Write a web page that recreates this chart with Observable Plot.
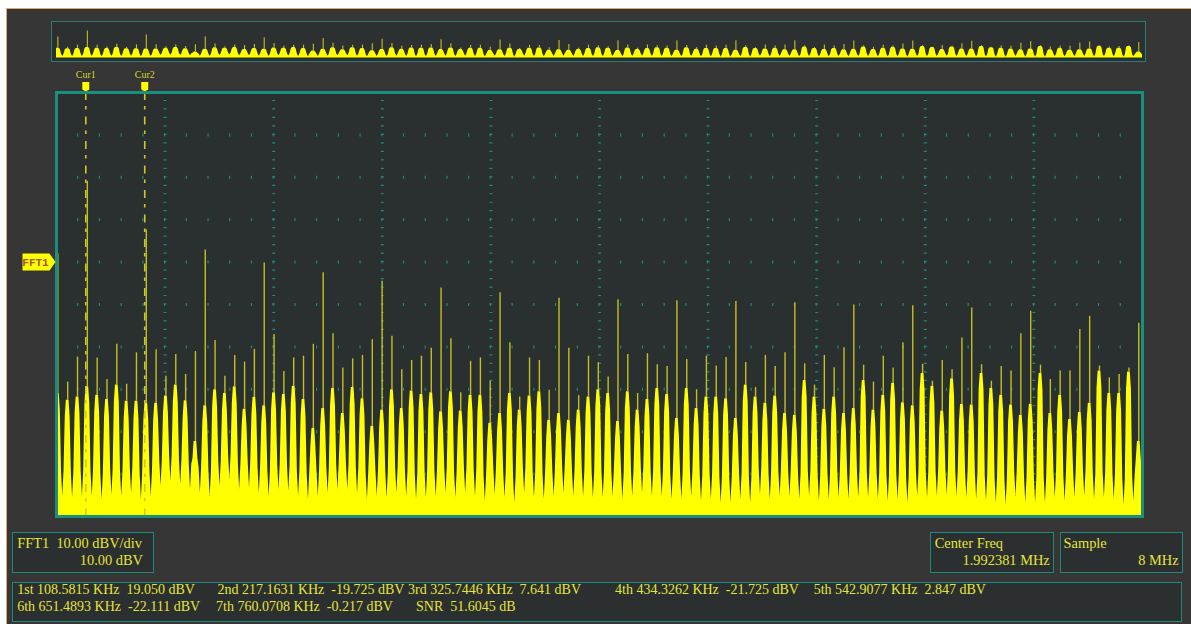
<!DOCTYPE html>
<html><head><meta charset="utf-8">
<script src="https://cdn.jsdelivr.net/npm/d3@7"></script>
<script src="https://cdn.jsdelivr.net/npm/@observablehq/plot@0.6"></script>
<style>
body{margin:0;background:#fff;width:1191px;height:624px;overflow:hidden;position:relative;font-family:"Liberation Serif",serif;}
#bg{position:absolute;left:6px;top:8px;right:0;bottom:0;background:#363636;border-left:1px solid #e2a673;border-top:1px solid #e2a673;}
.box{position:absolute;border:1.5px solid #1f8a7c;background:#2b2f30;box-sizing:border-box;}
.t{position:absolute;color:#e6e43a;font-size:14px;white-space:pre;line-height:1;}
.b{font-size:14.4px;}
#ov{position:absolute;left:51px;top:21px;width:1095px;height:41px;border:1px solid #2a7d72;background:#2c3031;box-sizing:border-box;}
</style></head><body>
<div id="bg"></div>
<div id="ov"></div>
<div class="box" style="left:12px;top:531.5px;width:142px;height:41px"></div>
<div class="box" style="left:930px;top:531.5px;width:124px;height:41px"></div>
<div class="box" style="left:1060px;top:531.5px;width:123px;height:41px"></div>
<div class="box" style="left:12px;top:581.5px;width:1170px;height:40.5px"></div>
<div id="texts"></div>
<script>
// ---- data ----
const spanKHz = [-5, 3995];           // displayed frequency span
const fundamentalKHz = 108.5815;      // 1st harmonic
const combStepKHz = fundamentalKHz / 3; // spectral comb spacing seen in the trace
const dbvPerDiv = 10;
const yDomainDbv = [-60, 40];
const refLevelDbv = 0;                // FFT1 marker level
const spikeTopDbv = [1.9,-28.3,-22.4,19.05,-22.6,-27.7,-19.4,-28.8,-21.4,7.64,
 -20.7,-26.9,-21.8,-26.5,-21.1,2.85,-18.5,-26.9,-22.0,-23.6,
 -20.6,-0.22,-17.1,-25.8,-22.6,-22.2,-19.4,-2.5,-16.9,-25.0,
 -22.8,-22.0,-18.3,-4.5,-17.5,-25.4,-23.2,-22.2,-20.3,-6.1,
 -18.1,-30.8,-23.4,-22.6,-28.1,-7.2,-19.0,-31.8,-22.6,-23.2,
 -30.2,-8.5,-20.3,-31.5,-22.2,-23.7,-27.1,-8.9,-21.8,-31.0,
 -21.6,-24.2,-24.6,-9.1,-23.0,-30.1,-22.2,-24.5,-22.5,-9.3,
 -23.7,-29.6,-22.0,-24.6,-21.4,-9.6,-24.0,-29.0,-22.0,-24.9,
 -20.2,-10.1,-24.3,-28.3,-22.2,-25.0,-19.0,-10.3,-24.1,-28.1,
 -23.2,-25.4,-17.9,-10.8,-24.2,-28.1,-24.6,-25.7,-16.9,-11.6,
 -24.3,-27.7,-25.7,-25.7,-15.9,-12.8,-24.5,-27.3,-26.5,-25.0,-14.4];
const bodyTopDbv = [-31.0,-32.6,-31.8,-29.4,-31.4,-32.4,-29.0,-32.8,-32.8,-33.3,
 -33.3,-31.6,-29.0,-32.7,-42.3,-33.9,-30.1,-31.0,-29.4,-34.7,
 -31.9,-33.9,-30.8,-31.2,-29.3,-32.4,-39.2,-34.5,-29.8,-35.7,
 -29.6,-32.2,-38.7,-34.9,-30.1,-34.5,-30.4,-31.2,-30.8,-35.3,
 -30.6,-35.1,-31.4,-31.4,-38.0,-35.7,-31.0,-34.9,-31.6,-30.6,
 -37.3,-35.7,-37.3,-34.9,-31.8,-30.1,-31.0,-37.6,-30.6,-34.9,
 -32.4,-29.8,-31.2,-36.9,-29.8,-34.5,-31.8,-31.8,-32.2,-36.9,
 -29.0,-31.8,-33.3,-31.6,-35.7,-36.1,-27.9,-31.8,-34.7,-31.8,
 -35.7,-34.5,-27.9,-34.9,-31.4,-28.6,-33.2,-33.9,-26.3,-29.3,
 -35.1,-27.5,-33.6,-33.7,-26.3,-29.8,-31.4,-33.7,-36.1,-33.5,
 -26.3,-35.7,-31.4,-37.1,-35.5,-33.3,-25.7,-31.0,-31.0,-25.9,-42.3];
const valleyDbv = [-55.3,-55.6,-55.3,-55.3,-56.0,-54.9,-55.3,-54.5,-56.0,-55.3,
 -52.9,-51.7,-52.5,-53.7,-54.5,-55.3,-52.9,-51.3,-53.7,-53.3,
 -54.5,-55.3,-53.7,-54.1,-55.3,-56.0,-55.3,
 -54.5,-53.7,-53.7,-54.5,-56.0,-55.3,-55.6,-54.5,-55.3,-56.0,
 -55.6,-55.3,-54.5,-55.6,-54.5,-55.3,-56.4,-54.9,-55.6,-56.8,
 -54.5,-55.6,-56.0,-55.3,-54.5,-55.3,-55.3,-55.6,
 -55.6,-55.3,-56.0,-55.3,-54.5,-55.3,-55.3,-56.0,-56.0,-55.3,
 -56.4,-56.0,-56.8,-56.8,-56.0,-56.8,-54.9,-56.0,-55.3,-55.3,
 -56.0,-55.3,-56.4,-56.0,-55.6,-56.0,-55.6,
 -55.6,-56.0,-56.4,-56.0,-56.8,-55.3,-55.6,-55.3,-54.9,-55.3,
 -55.6,-56.0,-56.4,-56.8,-57.2,-55.3,-56.8,-56.8,-56.8,-55.6,
 -56.4,-55.6,-55.3,-56.0,-55.6,-56.0,-57.2,-56.4];
const cursorKHz = [102.86, 320.00];
const cursorNames = ["Cur1", "Cur2"];
const readoutRows = [
  ["Cur1", "102.86 KHz", "( -28.19 dBV )"],
  ["Cur2", "320.00 KHz", "( -34.05 dBV )"],
  ["|\u25B3X|", "217.14 KHz", ""]
];
const harmonicRow1 = ["1st 108.5815 KHz  19.050 dBV", "2nd 217.1631 KHz  -19.725 dBV", "3rd 325.7446 KHz  7.641 dBV", "4th 434.3262 KHz  -21.725 dBV", "5th 542.9077 KHz  2.847 dBV"];
const harmonicRow2 = ["6th 651.4893 KHz  -22.111 dBV", "7th 760.0708 KHz  -0.217 dBV", "SNR  51.6045 dB"];
const scaleLabel = ["FFT1  10.00 dBV/div", "10.00 dBV"];
const centerFreq = ["Center Freq", "1.992381 MHz"];
const sampleRate = ["Sample", "8 MHz"];

// ---- tables ----
const peaks = spikeTopDbv.map((top, k) => ({f: k * combStepKHz, top, body: bodyTopDbv[k]}));
const spectrum = [{f: spanKHz[0], db: bodyTopDbv[0]}];
peaks.forEach((p, k) => {
  const vl = k > 0 ? valleyDbv[k - 1] : valleyDbv[0];
  const vr = k < valleyDbv.length ? valleyDbv[k] : valleyDbv[valleyDbv.length - 1];
  if (k > 0) spectrum.push({f: p.f - 13.5, db: vl + 6}, {f: p.f - 9, db: p.body - 4});
  spectrum.push({f: p.f - 5, db: p.body}, {f: p.f + 5, db: p.body}, {f: p.f + 9, db: p.body - 4}, {f: p.f + 13.5, db: vr + 6});
  if (k < valleyDbv.length) spectrum.push({f: p.f + combStepKHz / 2, db: valleyDbv[k]});
});
spectrum.push({f: spanKHz[1], db: valleyDbv[valleyDbv.length - 1]});
const cursors = cursorKHz.map((f, i) => ({f, label: cursorNames[i]}));
const divKHz = (spanKHz[1] - spanKHz[0]) / 10;
const xDivs = d3.range(1, 10).map(i => spanKHz[0] + i * divKHz);
const yDivs = d3.range(yDomainDbv[0] + dbvPerDiv, yDomainDbv[1], dbvPerDiv);

const yellow = "#ffff00", spikeCol = "#c4c01e", grid = "#1d8b7d";
const cursorSym = {draw(c) { c.moveTo(-3.5, -4.5); c.lineTo(3.5, -4.5); c.lineTo(3.5, 3); c.lineTo(0, 5); c.lineTo(-3.5, 3); c.closePath(); }};
const arrowSym = {draw(c) { c.moveTo(-16, -8.5); c.lineTo(11, -8.5); c.lineTo(17, 0); c.lineTo(11, 8.5); c.lineTo(-16, 8.5); c.closePath(); }};

const svgStyle = {background: "transparent", position: "absolute", left: "0px", top: "0px", overflow: "visible", maxWidth: "none"};

// overview strip
const overview = Plot.plot({
  width: 1191, height: 70,
  marginLeft: 56, marginRight: 49, marginTop: 23.5, marginBottom: 12.5,
  x: {domain: spanKHz, axis: null},
  y: {domain: yDomainDbv, axis: null},
  style: svgStyle,
  marks: [
    Plot.areaY(spectrum, {x: "f", y1: () => yDomainDbv[0], y2: "db", fill: yellow, curve: "linear"}),
    Plot.ruleX(peaks, {x: "f", y1: "body", y2: "top", stroke: spikeCol, strokeWidth: 1.1})
  ]
});
document.body.appendChild(overview);

const main = Plot.plot({
  width: 1191, height: 624,
  marginLeft: 56, marginRight: 49, marginTop: 92, marginBottom: 108,
  x: {domain: spanKHz, axis: null},
  y: {domain: yDomainDbv, axis: null},
  style: svgStyle,
  marks: [
    Plot.frame({fill: "#2a2f30"}),
    Plot.ruleX(xDivs, {stroke: grid, strokeWidth: 3, strokeDasharray: "1.2 7.28", strokeDashoffset: 0.6}),
    Plot.ruleY(yDivs, {stroke: grid, strokeWidth: 3, strokeDasharray: "1.2 20.52", strokeDashoffset: 0.6}),
    Plot.areaY(spectrum, {x: "f", y1: () => yDomainDbv[0], y2: "db", fill: yellow, curve: "linear"}),
    Plot.ruleX(peaks, {x: "f", y1: "body", y2: "top", stroke: spikeCol, strokeWidth: 1.4}),
    Plot.ruleX(cursors, {x: "f", stroke: "#cfca1e", strokeWidth: 1.6, strokeDasharray: "8 6 3.5 7"}),
    Plot.dot(cursors, {x: "f", frameAnchor: "top", dy: -6, symbol: cursorSym, fill: yellow, stroke: "none"}),
    Plot.text(cursors, {x: "f", text: "label", frameAnchor: "top", dy: -22, fill: "#dedb4c", fontSize: 10, fontFamily: "Liberation Serif", stroke: "#2a2a10", strokeWidth: 0.6, paintOrder: "stroke"}),
    Plot.frame({stroke: "#1b8f7f", strokeWidth: 3}),
    Plot.dot([refLevelDbv], {y: d => d, frameAnchor: "left", dx: -18, symbol: arrowSym, fill: yellow, stroke: "none"}),
    Plot.text([refLevelDbv], {y: d => d, frameAnchor: "left", dx: -21, textAnchor: "middle", text: () => "FFT1", fill: "#a9552a", fontSize: 11, fontWeight: "bold", fontFamily: "Liberation Mono"})
  ]
});
document.body.appendChild(main);

// ---- text panels ----
const T = document.getElementById("texts");
function put(str, left, top, opts = {}) {
  const d = document.createElement("div");
  d.className = "t" + (opts.cls ? " " + opts.cls : "");
  d.textContent = str;
  if (opts.right != null) { d.style.right = (1191 - opts.right) + "px"; d.style.textAlign = "right"; }
  else d.style.left = left + "px";
  d.style.top = top + "px";
  T.appendChild(d);
}
const roTops = [104, 120, 136.6];
readoutRows.forEach((r, i) => {
  put(r[0], 911, roTops[i]);
  put(r[1], i === 2 ? 956.5 : 953, roTops[i]);
  if (r[2]) put(r[2], 1027, roTops[i]);
});
put(scaleLabel[0], 17.2, 536, {cls: "b"});
put(scaleLabel[1], 0, 552.7, {right: 143, cls: "b"});
put(centerFreq[0], 934.7, 536, {cls: "b"});
put(centerFreq[1], 0, 552.7, {right: 1049.7, cls: "b"});
put(sampleRate[0], 1063.6, 536, {cls: "b"});
put(sampleRate[1], 0, 552.7, {right: 1178.6, cls: "b"});
const row1X = [17.2, 217.4, 408, 615, 813.7];
const row2X = [17.2, 216, 416];
harmonicRow1.forEach((s, i) => put(s, row1X[i], 582.9));
harmonicRow2.forEach((s, i) => put(s, row2X[i], 599.6));
</script>
</body></html>
